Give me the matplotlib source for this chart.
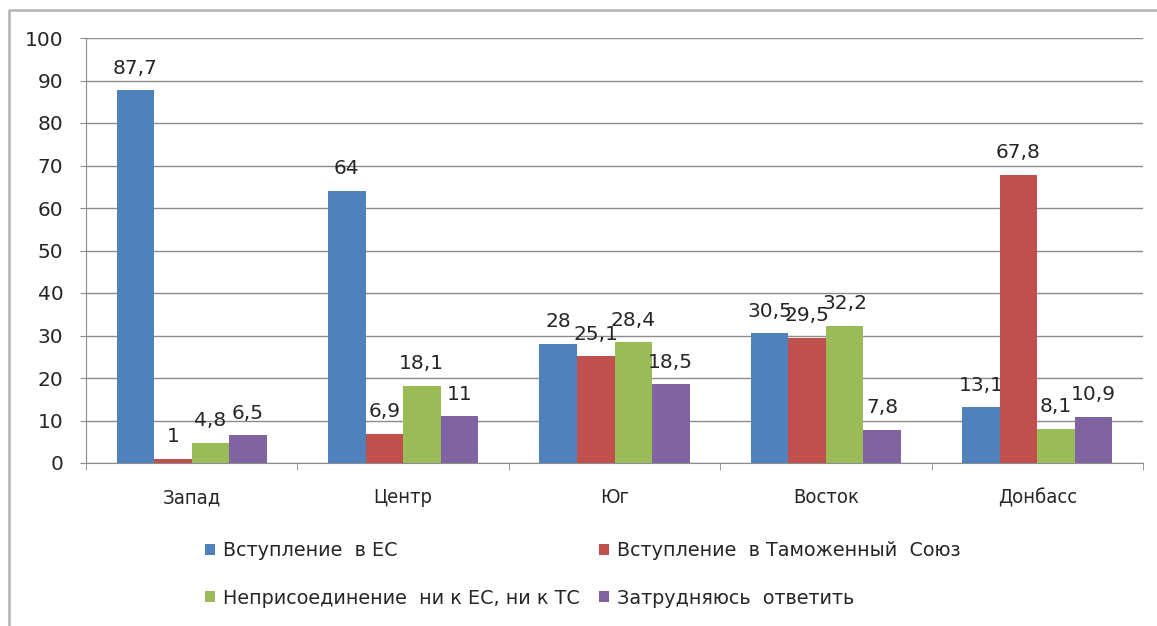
import matplotlib.pyplot as plt
from matplotlib.lines import Line2D
import numpy as np

regions = ['Запад', 'Центр', 'Юг', 'Восток', 'Донбасс']
series_names = ['Вступление  в ЕС', 'Вступление  в Таможенный  Союз',
                'Неприсоединение  ни к ЕС, ни к ТС', 'Затрудняюсь  ответить']
eu = [87.7, 64, 28, 30.5, 13.1]
cu = [1, 6.9, 25.1, 29.5, 67.8]
neither = [4.8, 18.1, 28.4, 32.2, 8.1]
unsure = [6.5, 11, 18.5, 7.8, 10.9]
colors = ['#4F81BD', '#C0504D', '#9BBB59', '#8064A2']

series = [eu, cu, neither, unsure]

W, H = 1157, 626
fig = plt.figure(figsize=(W / 100, H / 100), dpi=100)
ax = fig.add_axes([86 / W, 1 - 463 / H, (1143 - 86) / W, (463 - 38) / H])

x = np.arange(len(regions))
w = 0.1774
bars = []
for j, (vals, col, name) in enumerate(zip(series, colors, series_names)):
    b = ax.bar(x + (j - 1.5) * w, vals, w, color=col, label=name, zorder=3)
    bars.append(b)
    for xi, v in zip(x + (j - 1.5) * w, vals):
        lbl = ('%g' % v).replace('.', ',')
        ax.annotate(lbl, (xi, v), xytext=(0, 12), textcoords='offset points',
                    ha='center', va='baseline', fontsize=14.5, color='#262626')

ax.set_xlim(-0.5, 4.5)
ax.set_ylim(0, 100)
ax.set_yticks(range(0, 101, 10))
ax.grid(axis='y', color='#8c8c8c', linewidth=1, zorder=0)
ax.set_axisbelow(True)
for s in ['top', 'right']:
    ax.spines[s].set_visible(False)
for s in ['left', 'bottom']:
    ax.spines[s].set_color('#8c8c8c')
ax.tick_params(axis='y', length=4.3, color='#8c8c8c', pad=12, labelsize=14.5,
               labelcolor='#262626')
ax.set_xticks(x)
ax.set_xticklabels(regions, fontsize=14.5, color='#262626', fontstretch='condensed')
ax.set_xticks(np.arange(-0.5, 5, 1), minor=True)
ax.tick_params(axis='x', which='major', length=0, pad=18)
ax.tick_params(axis='x', which='minor', length=5, color='#8c8c8c')

handles = [bars[0], bars[2], bars[1], bars[3]]
labels = [series_names[0], series_names[2], series_names[1], series_names[3]]
leg = fig.legend(handles, labels, ncol=2, loc='upper left',
                 bbox_to_anchor=(205 / W, 1 - 541 / H), frameon=False,
                 prop={'size': 13.8}, handlelength=0.5,
                 handleheight=0.5, handletextpad=0.45, columnspacing=1.0,
                 labelspacing=1.5, borderpad=0, borderaxespad=0)
for t in leg.get_texts():
    t.set_color('#262626')

fig.add_artist(Line2D([9 / W, 9 / W, 1.01], [0, 1 - 10 / H, 1 - 10 / H],
                      transform=fig.transFigure, color='#b3b3b3', linewidth=1.8))

fig.savefig('out.png', dpi=100)
